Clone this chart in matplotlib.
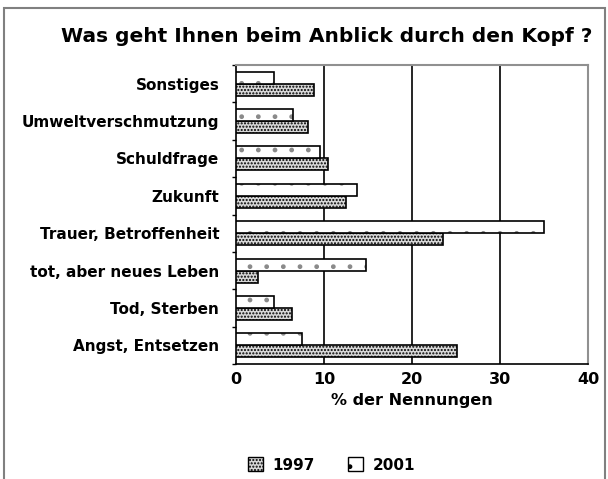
import numpy as np
import matplotlib
matplotlib.use('Agg')
import matplotlib.pyplot as plt
from matplotlib.patches import Rectangle, Patch

plt.rcParams['font.family'] = ['DejaVu Sans']
plt.rcParams['hatch.linewidth'] = 1.0

# Daten (von unten nach oben)
categories = ['Angst, Entsetzen', 'Tod, Sterben', 'tot, aber neues Leben',
              'Trauer, Betroffenheit', 'Zukunft', 'Schuldfrage',
              'Umweltverschmutzung', 'Sonstiges']
v1997 = [25.1, 6.4, 2.5, 23.5, 12.5, 10.4, 8.2, 8.9]
v2001 = [7.5, 4.35, 14.8, 35.0, 13.7, 9.5, 6.5, 4.35]
xticks = [0, 10, 20, 30, 40]

fig = plt.figure(figsize=(6.08, 4.79), dpi=100)
fig.patches.append(Rectangle((4/608, -0.05), 601/608, 1.05 - 8/479,
                             transform=fig.transFigure, fill=False,
                             edgecolor='#808080', linewidth=1.5))

ax = fig.add_axes([236/608, 1 - 364/479, 352/608, 299/479])
y = np.arange(len(categories))
h = 0.32
ax.barh(y - h/2, v1997, height=h, color='#d8d8d8', edgecolor='black',
        hatch='.....', linewidth=1.2, zorder=3)
# 2001: helle Punkte, schwarzer Rand darueber
ax.barh(y + h/2, v2001, height=h, color='white', edgecolor='#8a8a8a',
        hatch='.', linewidth=0, zorder=3)
ax.barh(y + h/2, v2001, height=h, fill=False, edgecolor='black',
        linewidth=1.2, zorder=4)

ax.set_xlim(0, 40)
ax.set_ylim(-0.5, len(categories) - 0.5)
ax.set_xticks(xticks)
ax.set_xticklabels([str(t) for t in xticks], fontsize=11.5, fontweight='bold')
ax.tick_params(axis='x', length=0, pad=6)
for t in xticks[1:-1]:
    ax.axvline(t, color='black', linewidth=1.2, zorder=1)

ax.set_yticks(np.arange(-0.5, len(categories), 1.0))
ax.set_yticklabels([])
ax.tick_params(axis='y', which='major', length=3, width=1)
ax.set_yticks(y, minor=True)
ax.set_yticklabels(categories, minor=True, fontsize=11, fontweight='bold')
ax.tick_params(axis='y', which='minor', length=0, pad=12)

for s in ['top', 'right']:
    ax.spines[s].set_color('#909090')
    ax.spines[s].set_linewidth(1.5)
for s in ['left', 'bottom']:
    ax.spines[s].set_color('black')
    ax.spines[s].set_linewidth(1.2)

ax.set_xlabel('% der Nennungen', fontsize=11.5, fontweight='bold', labelpad=4)

fig.text(0.538, 1 - 36/479, 'Was geht Ihnen beim Anblick durch den Kopf ?',
         ha='center', va='center', fontsize=14.5, fontweight='bold')

handles = [Patch(facecolor='#d8d8d8', edgecolor='black', hatch='.....', label='1997'),
           Patch(facecolor='white', edgecolor='black', hatch='.', label='2001')]
fig.legend(handles=handles, loc='center', bbox_to_anchor=(0.545, 1 - 465/479),
           ncol=2, frameon=False, prop={'weight': 'bold', 'size': 11},
           handlelength=1.0, handleheight=1.0, columnspacing=2.2,
           handletextpad=0.6)

fig.savefig('out.png', dpi=100)
